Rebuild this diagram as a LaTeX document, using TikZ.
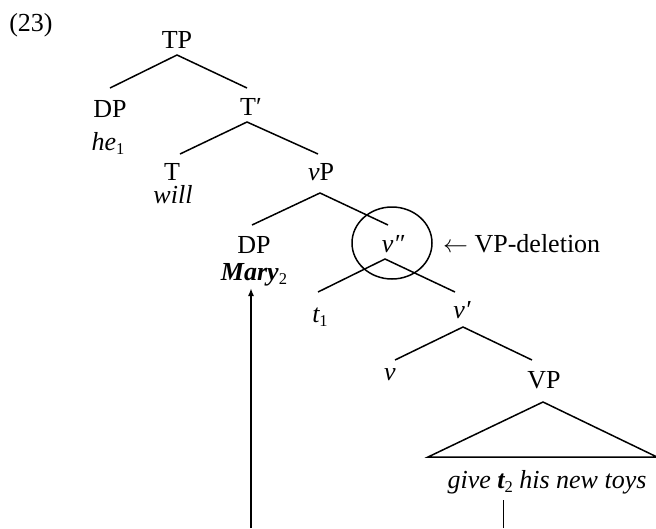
\documentclass[tikz,border=0pt]{standalone}
\usepackage{fontspec}
\setmainfont{Liberation Serif}
\usetikzlibrary{calc,arrows.meta}
\newcommand{\sbs}[1]{\raisebox{-0.18em}{\fontsize{16.5}{16.5}\selectfont\upshape\mdseries #1}}
\begin{document}
\begin{tikzpicture}[x=1pt,y=-1pt,
  lab/.style={anchor=base,inner sep=0pt,font=\fontsize{26}{29}\selectfont},
  br/.style={line width=1.5pt},
  mv/.style={line width=1.7pt}]
\useasboundingbox (0,0) rectangle (656,528);
% labels
\node[lab] (ex) at (31,31) {(23)};
\node[lab] (TP) at (177,48) {TP};
\node[lab] (DPa) at (110,117) {DP};
\node[lab] (he) at (108,150) {\itshape he\sbs{1}};
\node[lab] (Tbar) at (251,115) {T′};
\node[lab] (T) at (172,180) {T};
\node[lab] (will) at (173,203) {\itshape will};
\node[lab] (vP) at (321,180) {\itshape v\upshape P};
\node[lab] (DPb) at (254,253) {DP};
\node[lab] (Mary) at (254,280) {\bfseries\itshape Mary\sbs{2}};
\node[lab] (vpp) at (393,252) {\itshape v″};
\node[lab,anchor=base west] (del) at (443,252) {$\leftarrow$ VP-deletion};
\node[lab] (t1) at (320,322) {\itshape t\sbs{1}};
\node[lab] (vp) at (462,318) {\itshape v′};
\node[lab] (v) at (390,380) {\itshape v};
\node[lab] (VP) at (544,388) {VP};
\node[lab] (give) at (547,488) {\itshape give \textbf{t}\sbs{2} his new toys};
% branches
\draw[br] ($(DPa.base)+(0,-29)$) -- ($(TP.base)+(0,7)$) -- ($(Tbar.base)+(-4,-27)$);
\draw[br] ($(T.base)+(8,-26)$) -- ($(Tbar.base)+(-4,7)$) -- ($(vP.base)+(-3,-26)$);
\draw[br] ($(DPb.base)+(-2,-28)$) -- ($(vP.base)+(-1,13)$) -- ($(vpp.base)+(-5,-27)$);
\draw[br] ($(t1.base)+(-2,-30)$) -- ($(vpp.base)+(-8,7)$) -- ($(vp.base)+(-7,-26)$);
\draw[br] ($(v.base)+(5,-20)$) -- ($(vp.base)+(1,9)$) -- ($(VP.base)+(-12,-28)$);
\draw[br] ($(VP.base)+(-1,14)$) -- ++(-115,55) -- ++(229,0) -- cycle;
% circle round v''
\draw[br] ($(vpp.base)+(-1,-9)$) ellipse [x radius=40, y radius=36];
% movement
\coordinate (foot) at (251,528);
\draw[mv,-{Latex[length=8pt,width=6pt]}] (foot) -- (foot |- {$(Mary.base)+(0,8)$});
\coordinate (foot2) at (503,528);
\draw[line width=1pt] (foot2) -- (foot2 |- {$(give.base)+(0,12)$});
\end{tikzpicture}
\end{document}
